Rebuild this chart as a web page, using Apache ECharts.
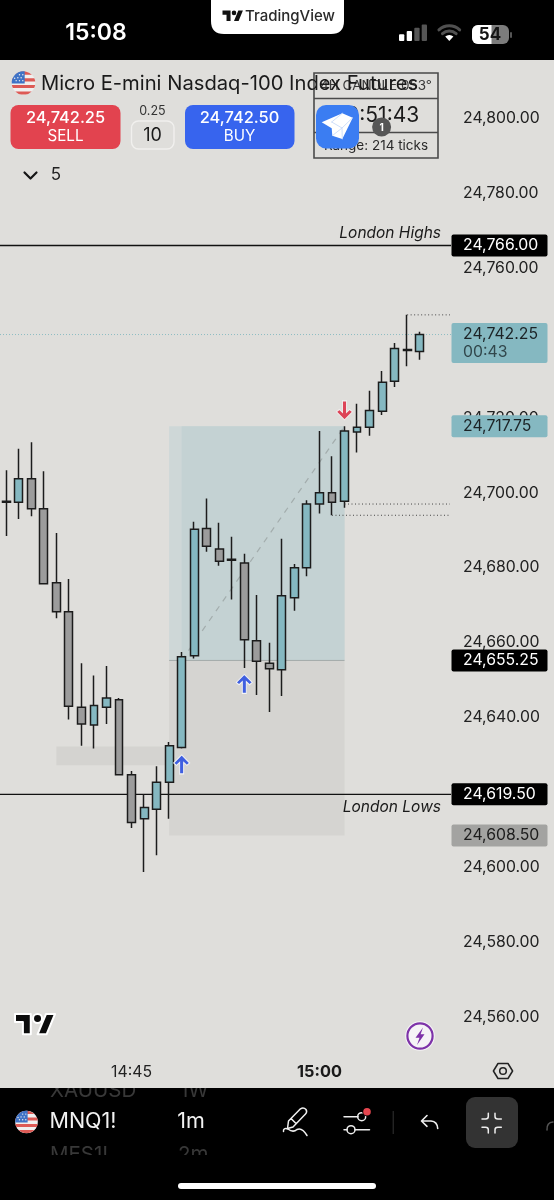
<!DOCTYPE html>
<html><head><meta charset="utf-8">
<style>html,body{margin:0;padding:0;background:#dfdedb}#c{width:554px;height:1200px}</style>
<script src="https://cdn.jsdelivr.net/npm/echarts@6/dist/echarts.min.js"></script></head>
<body><div id="c"></div>
<script>
const times = ['14:35','14:36','14:37','14:38','14:39','14:40','14:41','14:42','14:43','14:44','14:45','14:46','14:47','14:48','14:49','14:50','14:51','14:52','14:53','14:54','14:55','14:56','14:57','14:58','14:59','15:00','15:01','15:02','15:03','15:04','15:05','15:06','15:07','15:08','15:09','15:10'];
const opens  = [24697.75,24697.5,24703.75,24695.75,24676,24668.25,24642.75,24638,24642.75,24644.75,24624.75,24613,24615.5,24622.75,24632,24656.5,24690.5,24685,24682.25,24681.25,24660.5,24654.5,24652.75,24672,24680,24697,24700,24697.75,24716.25,24717.5,24721.75,24729.75,24738.25,24737.75];
const closes = [24697.5,24703.75,24695.75,24675.75,24668.25,24643,24638.25,24643.25,24645.25,24624.75,24612,24616,24622.75,24632.5,24656.25,24690.25,24685.75,24681.75,24682,24660.75,24655,24653,24672.5,24680,24697,24700,24697.5,24716.5,24717.5,24722,24729.5,24738.5,24738,24742.25];
const lows   = [24688.5,24693,24693.75,24675.5,24666.5,24639.5,24632.5,24631.75,24638.25,24624.5,24610.5,24598.75,24603.25,24613,24631.75,24655.75,24684.25,24680.5,24671.5,24653.25,24646,24641.5,24645.75,24668.5,24677.75,24694.5,24694,24696,24710.75,24715.25,24720.75,24728.25,24733.75,24735.5];
const highs  = [24706,24711.75,24713.5,24705.75,24689.25,24677,24654.5,24651.25,24653.75,24645.25,24625.75,24619.5,24627,24633.5,24657.5,24692.25,24698.5,24692,24688.25,24683.75,24672.75,24660,24687.75,24681,24698,24716.5,24709.75,24717.75,24723.75,24727.25,24732.5,24740,24747.5,24743];
const priceTicks = [24560,24580,24600,24620,24640,24660,24680,24700,24720,24740,24760,24780,24800];
const shownTimes = ['14:45','15:00'];

const zones = [
  {from:4,  to:13, low:24627.25, high:24632.25, fill:'#d4d3d0'},
  {from:13, to:27, low:24608.5,  high:24655.25, fill:'#d5d4d1'},
  {from:13, to:27, low:24655.25, high:24717.75, fill:'#ced7d7'},
  {from:14, to:27, low:24655.25, high:24717.75, fill:'#c4d2d3'}
];
const entryLine = {from:13, to:27, price:24655.25};
const riskDiagonal = {fromIdx:14, fromPrice:24655.25, toIdx:27, toPrice:24717.75};
const solidLevels = [{price:24766,name:'London Highs',above:true},{price:24619.5,name:'London Lows',above:false}];
const dottedLevels = [{from:32,price:24747.5},{from:27,price:24697},{from:26,price:24694}];
const lastPrice = 24742.25;
const tags = [
  {price:24766,   text:'24,766.00', sub:'',      fill:'#000000', color:'#ffffff'},
  {price:24742.25,text:'24,742.25', sub:'00:43', fill:'#85b8c1', color:'#1c2326'},
  {price:24717.75,text:'24,717.75', sub:'',      fill:'#85b8c1', color:'#1c2326'},
  {price:24655.25,text:'24,655.25', sub:'',      fill:'#000000', color:'#ffffff'},
  {price:24619.5, text:'24,619.50', sub:'',      fill:'#000000', color:'#ffffff'},
  {price:24608.5, text:'24,608.50', sub:'',      fill:'#a3a3a1', color:'#1c1c1c'}
];
const upArrows = [[14,24627.5],[19,24649]];
const downArrows = [[27,24722]];

const FONT = 'Inter, "Noto Sans", sans-serif';
const BG = '#dfdedb';
const AXIS_PX = 15.8;
const fmt = v => v.toLocaleString('en-US',{minimumFractionDigits:2,maximumFractionDigits:2});
const ARROW = 'path://M8 0L16 8.5L13.2 11L10 7.8L10 20L6 20L6 7.8L2.8 11L0 8.5Z';

function T(text,x,y,font,fill,align){return {type:'text',style:{text,x,y,font:font+' '+FONT,fill,textAlign:align||'center',textVerticalAlign:'middle'}};}
function R(x,y,w,h,r,fill,stroke,lw){return {type:'rect',shape:{x,y,width:w,height:h,r:r||0},style:{fill:fill||'transparent',stroke:stroke||null,lineWidth:lw||0}};}
function C(cx,cy,r,fill,stroke,lw){return {type:'circle',shape:{cx,cy,r},style:{fill:fill||'transparent',stroke:stroke||null,lineWidth:lw||0}};}
function P(d,fill,stroke,lw){return {type:'path',shape:{pathData:d},style:{fill:fill||'transparent',stroke:stroke||null,lineWidth:lw||0,lineCap:'round',lineJoin:'round'}};}

function flag(cx,cy,r){
  const out=[C(cx,cy,r,'#f1efee')];
  const chord=(a,b)=>{const xa=Math.sqrt(r*r-a*a),xb=Math.sqrt(r*r-b*b);
    return `M${cx+xa} ${cy+a}A${r} ${r} 0 0 1 ${cx+xb} ${cy+b}L${cx-xb} ${cy+b}A${r} ${r} 0 0 1 ${cx-xa} ${cy+a}Z`;};
  const s=r/6;
  [[-5.9,-4.2],[-2.4,-.8],[1,2.6],[4.3,5.9]].forEach(b=>out.push(P(chord(b[0]*s,b[1]*s),'#dd5a55')));
  const topY=-Math.sqrt(r*r-(0.1*r)*(0.1*r));
  out.push(P(`M${cx+.1*r} ${cy+.05*r}L${cx-r} ${cy+.05*r}A${r} ${r} 0 0 1 ${cx+.1*r} ${cy+topY}Z`,'#3f73c6'));
  [[-.62,-.2],[-.34,-.2],[-.06,-.2],[-.48,-.45],[-.2,-.45],[-.34,-.7],[-.06,-.7],[-.75,-.4]].forEach(d=>out.push(C(cx+d[0]*r,cy+d[1]*r,r*.06,'#f1efee')));
  return out;
}
function wedge(cx,cy,r,a){const sx=Math.sin(a)*r,sy=Math.cos(a)*r;return `M${cx} ${cy}L${cx-sx} ${cy-sy}A${r} ${r} 0 0 1 ${cx+sx} ${cy-sy}Z`;}
function arc(cx,cy,r,a){const sx=Math.sin(a)*r,sy=Math.cos(a)*r;return `M${cx-sx} ${cy-sy}A${r} ${r} 0 0 1 ${cx+sx} ${cy-sy}`;}
const TVLOGO='M14 22H7V11H0V4h14v18zM28 22h-8l7.5-18h8L28 22zM24 8a4 4 0 1 1-8 0a4 4 0 1 1 8 0z';

const chrome=[
  R(0,0,554,60,0,'#000'),
  T('15:08',96,33,'600 23px','#fff'),
  P('M211 0L344 0L344 21Q344 34 331 34L224 34Q211 34 211 21Z','#fff'),
  Object.assign(P(TVLOGO,'#111'),{x:222.5,y:8.3,scaleX:.575,scaleY:.575}),
  T('TradingView',290,16.5,'500 15px','#2a2a2a'),
  R(399,34.3,5.3,6.7,1,'#fff'),R(406.7,31,5.3,10,1,'#fff'),R(414.3,27.7,5.3,13.3,1,'#555'),R(421.7,24.5,5.3,16.5,1,'#555'),
  P(wedge(449.3,41,6,.75),'#fff'),
  P(arc(449.3,41,10,.75),null,'#505050',3),P(arc(449.3,41,15.2,.75),null,'#505050',3),
  R(472,25,37,19,6,'#7c7c7c'),
  {type:'rect',shape:{x:472,y:25,width:19.5,height:19,r:[6,0,0,6]},style:{fill:'#fff'}},
  R(510,32,2,6,1,'#555'),
  T('54',490,35,'700 17px','#141414'),
  ...flag(23.5,83,11.8),
  R(314,73,124,85,0,'transparent','#4a4a4a',1.6),
  {type:'line',shape:{x1:314,y1:98.5,x2:438,y2:98.5},style:{stroke:'#4a4a4a',lineWidth:1.6}},
  {type:'line',shape:{x1:314,y1:132.5,x2:438,y2:132.5},style:{stroke:'#4a4a4a',lineWidth:1.6}},
  T('4H CANDLE 053°',376,86,'400 13.5px','#3a3a3a'),
  T('00:51:43',376,115.5,'400 21px','#1a1a1a'),
  T('Range: 214 ticks',376,146,'400 13.5px','#2a2a2a'),
  T('Micro E-mini Nasdaq-100 Index Futures',41,83.5,'400 20.2px','#1a1a1a','left'),
  R(10.5,105,110,44,8,'#e2434f'),
  T('24,742.25',65.5,118,'500 16.4px','#fff'),T('SELL',65.5,136,'400 15.2px','#fff'),
  T('0.25',152.5,111,'400 12.5px','#333'),
  R(131.5,121,42.5,28,7,'transparent','#f1f0ee',1.4),
  T('10',152.5,135.5,'400 18px','#1a1a1a'),
  R(185,105,109.5,44,8,'#3764ee'),
  T('24,742.50',239.5,118,'500 16.4px','#fff'),T('BUY',239.5,136,'400 15.2px','#fff'),
  R(316,105,43,43.5,10,'#3b7df2'),
  P('M321.7 122.3L342.3 113.3L352.7 117.7L342.3 139L332.3 135.7L331.7 128.3Z','#fff'),
  P('M331.7 122L342.3 113.3M331.7 122L342 128L352.7 117.7M342 128L332.3 135.7M342 128L342.3 139','transparent','#c3d7f8',.8),
  C(381.6,127,9.5,'#565656'),
  T('1',381.6,127.5,'700 10px','#fff'),
  P('M24.5 172.5L30.5 178.5L36.5 172.5',null,'#151515',2.2),
  T('5',56,175,'400 17px','#222'),
  Object.assign(P(TVLOGO,'#0c0c0c','#fff',1.8),{x:15,y:1009.5,scaleX:1.127,scaleY:1.127}),
  C(420,1036,14.8,'#f5f3f6'),C(420,1036,12.6,'transparent','#7d32a8',2.2),
  P('M423 1027.5L415.5 1037.8L419.5 1037.8L417 1045L424.5 1034.3L420.6 1034.3Z','#7d32a8'),
  P('M493.4 1071L498 1063.5L508 1063.5L512.6 1071L508 1078.5L498 1078.5Z',null,'#222',1.5),
  C(503,1071,3.3,'transparent','#222',1.5),
  R(0,1088,554,112,0,'#000'),
  T('XAUUSD',50,1091,'400 20.5px','#383838','left'),T('1W',180,1091,'400 20.5px','#383838','left'),
  T('MES1!',50,1154.5,'400 20.5px','#383838','left'),T('2m',178,1154.5,'400 20.5px','#383838','left'),
  R(40,1079,200,9,0,BG),
  R(40,1155,200,20,0,'#000'),
  ...flag(26.5,1122,11.3),
  T('MNQ1!',49.5,1122,'400 21.5px','#f2f2f2','left'),
  T('1m',191,1122,'400 21.5px','#f2f2f2'),
  P('M288.5 1121L300.5 1108.8Q303.5 1106.8 306 1109.5Q307.5 1112 305.5 1114L293 1127L287.5 1128.5ZM291 1118.5L296 1123.5',null,'#f0f0f0',1.5),
  P('M283.5 1131.5Q283 1127.5 288 1129Q293 1133 297 1129.5Q302 1127 307 1135.5',null,'#f0f0f0',1.5),
  P('M344 1116.7L358 1116.7',null,'#eee',1.5),C(361.7,1116.7,4,'transparent','#eee',1.5),
  C(367,1111.7,4.8,'#000'),C(367,1111.7,3.8,'#e5464f'),
  P('M344 1129.7L347 1129.7M355 1129.7L369.5 1129.7',null,'#eee',1.5),C(351,1129.7,4,'transparent','#eee',1.5),
  R(392.7,1111,1,23,0,'#333'),
  P('M427 1115.5L421.5 1121L427 1126.3M422 1121L431 1121Q437.3 1121.5 437.7 1128.5',null,'#eee',1.6),
  R(466,1097,52,51,9,'#333333'),
  P('M488.3 1113.3L488.3 1116.5Q488.3 1119 485.5 1119L482 1119M495 1113.3L495 1116.5Q495 1119 497.8 1119L501.3 1119M488.3 1133L488.3 1129.8Q488.3 1127.3 485.5 1127.3L482 1127.3M495 1133L495 1129.8Q495 1127.3 497.8 1127.3L501.3 1127.3',null,'#eee',1.5),
  P('M547 1130Q546.5 1122.5 553 1122',null,'#555',1.5),
  R(178,1183,198,6,3,'#fff')
];

function rightEdge(params){return params.coordSys.x+params.coordSys.width;}

const option={
  animation:false,
  backgroundColor:BG,
  grid:{left:0,width:451,top:43.28,height:1048.88,containLabel:false},
  xAxis:{type:'category',data:times,boundaryGap:true,
    axisLine:{show:false},axisTick:{show:false},splitLine:{show:false},
    axisLabel:{inside:true,margin:12,hideOverlap:false,color:'#222',fontFamily:'Inter',fontSize:15.8,
      interval:(i,v)=>shownTimes.includes(v),
      formatter:v=>v==='15:00'?'{b|'+v+'}':v,
      rich:{b:{fontWeight:700,fontSize:16.3,fontFamily:'Inter',color:'#1a1a1a'}}}},
  yAxis:{type:'value',position:'right',min:24540,max:24820,interval:20,scale:true,
    axisLine:{show:false},axisTick:{show:false},splitLine:{show:false},
    axisLabel:{margin:12,color:'#222',fontFamily:'Inter',fontSize:AXIS_PX,
      formatter:v=>priceTicks.includes(v)?fmt(v):''}},
  series:[
    {type:'custom',name:'zones',z:1,silent:true,coordinateSystem:'cartesian2d',clip:true,
     data:zones.map(z=>[z.from,z.high]),
     renderItem(p,api){const z=zones[p.dataIndex];const a=api.coord([z.from,z.high]),b=api.coord([z.to,z.low]);
       return {type:'rect',shape:{x:a[0],y:a[1],width:b[0]-a[0],height:b[1]-a[1]},style:{fill:z.fill}};}},
    {type:'custom',name:'entry',z:2,silent:true,coordinateSystem:'cartesian2d',
     data:[[entryLine.from,entryLine.price]],
     renderItem(p,api){const a=api.coord([entryLine.from,entryLine.price]),b=api.coord([entryLine.to,entryLine.price]);
       return {type:'line',shape:{x1:a[0],y1:a[1],x2:b[0],y2:b[1]},style:{stroke:'#a4aaa9',lineWidth:1}};}},
    {type:'custom',name:'diagonal',z:2,silent:true,coordinateSystem:'cartesian2d',
     data:[[riskDiagonal.fromIdx,riskDiagonal.fromPrice]],
     renderItem(p,api){const a=api.coord([riskDiagonal.fromIdx,riskDiagonal.fromPrice]),b=api.coord([riskDiagonal.toIdx,riskDiagonal.toPrice]);
       return {type:'line',shape:{x1:a[0],y1:a[1],x2:b[0],y2:b[1]},style:{stroke:'#a3adad',lineWidth:1.2,lineDash:[6,6]}};}},
    {type:'custom',name:'lastPrice',z:2,silent:true,coordinateSystem:'cartesian2d',
     data:[[0,lastPrice]],
     renderItem(p,api){const a=api.coord([0,lastPrice]);
       return {type:'line',shape:{x1:p.coordSys.x,y1:a[1],x2:rightEdge(p),y2:a[1]},style:{stroke:'#8dbcc3',lineWidth:1,lineDash:[1,2]}};}},
    {type:'custom',name:'levels',z:3,silent:true,coordinateSystem:'cartesian2d',
     data:solidLevels.map(l=>[0,l.price]),
     renderItem(p,api){const l=solidLevels[p.dataIndex];const a=api.coord([0,l.price]);const r=rightEdge(p);
       return {type:'group',children:[
         {type:'line',shape:{x1:p.coordSys.x,y1:a[1],x2:r,y2:a[1]},style:{stroke:'#111',lineWidth:1.4}},
         {type:'text',style:{text:l.name,x:r-10,y:a[1]+(l.above?-12:13),textAlign:'right',textVerticalAlign:'middle',font:'italic 400 15.5px '+FONT,fill:'#1a1a1a'}}]};}},
    {type:'candlestick',name:'MNQ1!',z:5,barWidth:8.4,
     data:opens.map((o,i)=>[o,closes[i],lows[i],highs[i]]),
     itemStyle:{color:'#85b8c1',color0:'#9c9c9c',borderColor:'#1c1c1c',borderColor0:'#1c1c1c',borderColorDoji:'#1c1c1c',borderWidth:1.5}},
    {type:'custom',name:'dotted',z:6,silent:true,coordinateSystem:'cartesian2d',
     data:dottedLevels.map(l=>[l.from,l.price]),
     renderItem(p,api){const l=dottedLevels[p.dataIndex];const a=api.coord([l.from,l.price]);
       return {type:'line',shape:{x1:a[0],y1:a[1],x2:rightEdge(p)-1,y2:a[1]},style:{stroke:'#444',lineWidth:1,lineDash:[1,2.5]}};}},
    {type:'scatter',name:'buys',z:7,silent:true,symbol:ARROW,symbolSize:[16,19],data:upArrows,
     itemStyle:{color:'#3f5fe0',borderColor:'#f4f4f4',borderWidth:1,opacity:1}},
    {type:'scatter',name:'sells',z:7,silent:true,symbol:ARROW,symbolSize:[16,19],symbolRotate:180,data:downArrows,
     itemStyle:{color:'#dd4457',borderColor:'#f0f0f0',borderWidth:1,opacity:1}},
    {type:'custom',name:'tags',z:8,silent:true,coordinateSystem:'cartesian2d',clip:false,
     data:tags.map(t=>[35,t.price]),
     renderItem(p,api){const t=tags[p.dataIndex];const y=api.coord([35,t.price])[1];
       const h=t.sub?40:22,top=t.sub?y-11.5:y-11;
       const kids=[{type:'rect',shape:{x:451.5,y:top,width:96,height:h,r:2},style:{fill:t.fill}},
         {type:'text',style:{text:t.text,x:463,y:y,textVerticalAlign:'middle',font:'400 '+AXIS_PX+'px '+FONT,fill:t.color}}];
       if(t.sub)kids.push({type:'text',style:{text:t.sub,x:463,y:y+18,textVerticalAlign:'middle',font:'400 '+AXIS_PX+'px '+FONT,fill:'#31474c'}});
       return {type:'group',children:kids};}},
    {type:'custom',name:'appChrome',z:100,silent:true,coordinateSystem:'none',clip:false,
     data:[[0]],
     renderItem(){return {type:'group',children:chrome};}}
  ]
};
const chart=echarts.init(document.getElementById('c'),null,{renderer:'canvas'});
chart.setOption(option);
</script></body></html>
